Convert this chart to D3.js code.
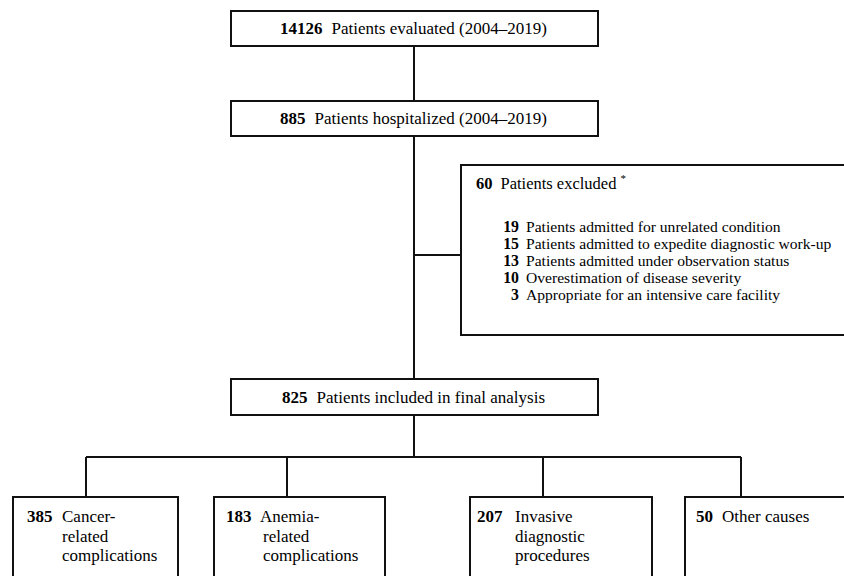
<!DOCTYPE html>
<html><head><meta charset="utf-8">
<script src="https://cdn.jsdelivr.net/npm/d3@7"></script>
<style>html,body{margin:0;padding:0;background:#fff;}svg{display:block;}</style>
</head><body>
<script>
// ---- data ----
const mainCounts = [14126, 885, 825];
const mainLabels = ["Patients evaluated (2004\u20132019)", "Patients hospitalized (2004\u20132019)", "Patients included in final analysis"];
const excludedCount = 60;
const excludedLabel = "Patients excluded";
const exclusionCounts = [19, 15, 13, 10, 3];
const exclusionLabels = ["Patients admitted for unrelated condition", "Patients admitted to expedite diagnostic work-up", "Patients admitted under observation status", "Overestimation of disease severity", "Appropriate for an intensive care facility"];
const groupCounts = [385, 183, 207, 50];
const groupLabels = [["Cancer-", "related", "complications"], ["Anemia-", "related", "complications"], ["Invasive", "diagnostic", "procedures"], ["Other causes"]];

// ---- layout ----
const W = 844, H = 576;
const svg = d3.select("body").append("svg").attr("width", W).attr("height", H);
const font = "'Liberation Serif'";
const fs = "17px";
const stroke = "#111";
const sw = 2;

const mainBoxes = [{x:231,y:11,w:367,h:35},{x:231,y:101,w:367,h:35},{x:231,y:379,w:367,h:36}];
const cx = 414;

const lines = [
  [cx, 46, cx, 101],
  [cx, 136, cx, 379],
  [cx, 255, 461, 255],
  [cx, 415, cx, 457],
  [86, 457, 741, 457]
];
const groupBoxes = [{x:13,w:165,bx:86},{x:214,w:171,bx:287},{x:470,w:182,bx:543},{x:685,w:200,bx:741}];
groupBoxes.forEach(g => lines.push([g.bx, 457, g.bx, 497]));

svg.selectAll("line.c").data(lines).join("line").attr("class","c")
  .attr("x1",d=>d[0]).attr("y1",d=>d[1]).attr("x2",d=>d[2]).attr("y2",d=>d[3])
  .attr("stroke",stroke).attr("stroke-width",sw);

function txt(sel, size){ return sel.style("font-family",font).style("font-size",size||fs).attr("fill","#000"); }

// main boxes
const mg = svg.selectAll("g.main").data(mainCounts).join("g").attr("class","main");
mg.append("rect").attr("x",(d,i)=>mainBoxes[i].x).attr("y",(d,i)=>mainBoxes[i].y)
  .attr("width",(d,i)=>mainBoxes[i].w).attr("height",(d,i)=>mainBoxes[i].h)
  .attr("fill","#fff").attr("stroke",stroke).attr("stroke-width",sw);
const mt = txt(mg.append("text")).attr("x",(d,i)=>mainBoxes[i].x+mainBoxes[i].w/2-1)
  .attr("y",(d,i)=>mainBoxes[i].y+mainBoxes[i].h/2+5.5)
  .attr("text-anchor","middle");
mt.append("tspan").style("font-weight","bold").text(d=>d);
mt.append("tspan").attr("dx",9).text((d,i)=>mainLabels[i]);

// excluded box
svg.append("rect").attr("x",461).attr("y",165).attr("width",400).attr("height",170)
  .attr("fill","#fff").attr("stroke",stroke).attr("stroke-width",sw);
const et = txt(svg.append("text"), "16.5px").attr("x",476).attr("y",188.5);
et.append("tspan").style("font-weight","bold").text(excludedCount);
et.append("tspan").attr("dx",8).text(excludedLabel);
et.append("tspan").attr("dx",4).attr("dy",-7).style("font-size","11px").text("*");

const ey = d3.scaleLinear().domain([0,1]).range([231.5,248.7]);
txt(svg.selectAll("text.exn").data(exclusionCounts).join("text").attr("class","exn"), "15.8px")
  .attr("x",519).attr("y",(d,i)=>ey(i)).attr("text-anchor","end")
  .style("font-weight","bold").text(d=>d);
txt(svg.selectAll("text.exl").data(exclusionLabels).join("text").attr("class","exl"), "15.6px")
  .attr("x",526).attr("y",(d,i)=>ey(i)).text(d=>d);

// group boxes
const numX = [27,226,477,696];
const labX = [[62,62,62],[260,263,263],[515,515,515],[722]];
const ly = d3.scaleLinear().domain([0,1]).range([522,541.5]);
const gg = svg.selectAll("g.grp").data(groupCounts).join("g").attr("class","grp");
gg.append("rect").attr("x",(d,i)=>groupBoxes[i].x).attr("y",497)
  .attr("width",(d,i)=>groupBoxes[i].w).attr("height",120)
  .attr("fill","#fff").attr("stroke",stroke).attr("stroke-width",sw);
txt(gg.append("text")).attr("x",(d,i)=>numX[i]).attr("y",ly(0))
  .style("font-weight","bold").text(d=>d);
gg.each(function(d,i){
  txt(d3.select(this).selectAll("text.gl").data(groupLabels[i]).join("text").attr("class","gl"))
    .attr("x",(t,j)=>labX[i][j]).attr("y",(t,j)=>ly(j)).text(t=>t);
});
</script>
</body></html>
